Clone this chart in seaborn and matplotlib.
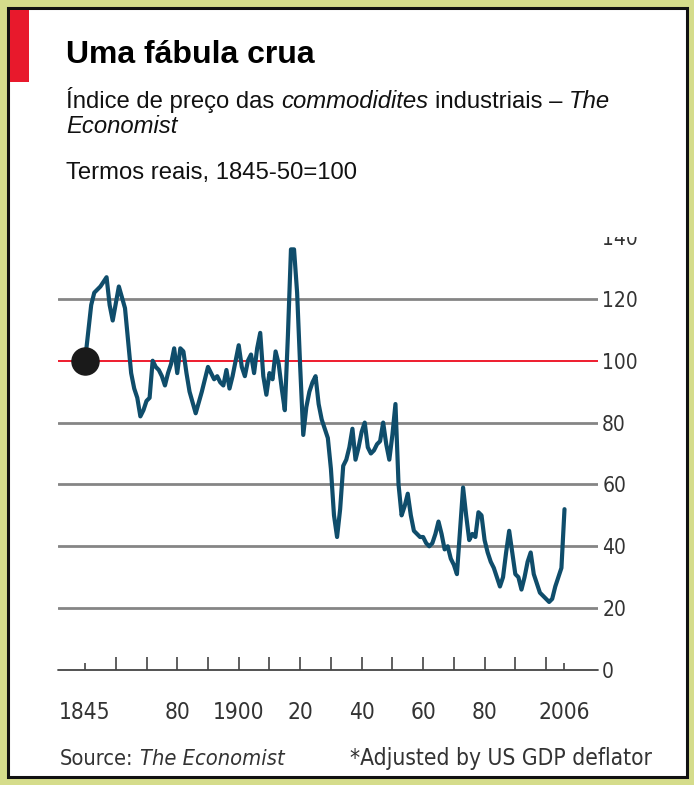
import matplotlib
matplotlib.use("Agg")
import matplotlib.pyplot as plt
import seaborn as sns
import pandas as pd
from matplotlib.patches import Rectangle
from matplotlib import font_manager

# ---------------- data ----------------
years = [1850, 1852, 1853, 1855, 1857, 1858, 1859, 1861, 1863, 1865, 1866, 1867, 1868, 1869,
         1870, 1871, 1872, 1873, 1874, 1875, 1876, 1877, 1878, 1879, 1880, 1881, 1882, 1883,
         1884, 1886, 1888, 1890, 1891, 1892, 1893, 1894, 1895, 1896, 1897, 1898, 1900, 1901,
         1902, 1903, 1904, 1905, 1906, 1907, 1908, 1909, 1910, 1911, 1912, 1913, 1914, 1915,
         1916, 1917, 1918, 1919, 1920, 1921, 1922, 1923, 1924, 1925, 1926, 1927, 1928, 1929,
         1930, 1931, 1932, 1933, 1934, 1935, 1936, 1937, 1938, 1939, 1940, 1941, 1942, 1943,
         1944, 1945, 1946, 1947, 1948, 1949, 1950, 1951, 1952, 1953, 1954, 1955, 1956, 1957,
         1958, 1959, 1960, 1961, 1962, 1963, 1964, 1965, 1966, 1967, 1968, 1969, 1970, 1971,
         1972, 1973, 1974, 1975, 1976, 1977, 1978, 1979, 1980, 1981, 1982, 1983, 1984, 1985,
         1986, 1987, 1988, 1989, 1990, 1991, 1992, 1993, 1994, 1995, 1996, 1997, 1998, 1999,
         2000, 2001, 2002, 2003, 2004, 2005, 2006]
index_values = [100, 118, 122, 124, 127, 118, 113, 124, 117, 96, 91, 88, 82, 84,
                87, 88, 100, 98, 97, 95, 92, 96, 99, 104, 96, 104, 103, 96,
                90, 83, 90, 98, 96, 94, 95, 93, 92, 97, 91, 95, 105, 98,
                95, 100, 102, 96, 104, 109, 95, 89, 96, 94, 103, 99, 91, 84,
                108, 136, 136, 122, 98, 76, 85, 90, 93, 95, 86, 81, 78, 75,
                65, 50, 43, 52, 66, 68, 72, 78, 68, 72, 77, 80, 72, 70,
                71, 73, 74, 80, 73, 68, 76, 86, 60, 50, 53, 57, 50, 45,
                44, 43, 43, 41, 40, 41, 44, 48, 44, 39, 40, 36, 34, 31,
                45, 59, 50, 42, 44, 43, 51, 50, 42, 38, 35, 33, 30, 27,
                30, 38, 45, 38, 31, 30, 26, 30, 35, 38, 31, 28, 25, 24,
                23, 22, 23, 27, 30, 33, 52]
start_year = [1850]
start_value = [100]
y_ticks = [0, 20, 40, 60, 80, 100, 120, 140]
x_tick_years = [1850, 1860, 1870, 1880, 1890, 1900, 1910, 1920, 1930, 1940, 1950,
                1960, 1970, 1980, 1990, 2000, 2006]
x_tick_labels = ["1845", "", "", "80", "", "1900", "", "20", "", "40", "",
                 "60", "", "80", "", "", "2006"]

title = "Uma fábula crua"
subtitle1 = [("Índice de preço das ", "normal"), ("commodidites", "italic"),
             (" industriais – ", "normal"), ("The", "italic")]
subtitle2 = [("Economist", "italic")]
subtitle3 = [("Termos reais, 1845-50=100", "normal")]
source_parts = [("Source: ", "normal"), ("The Economist", "italic")]
note_text = "*Adjusted by US GDP deflator"

# ---------------- style ----------------
sns.set_style("white")
names = {f.name for f in font_manager.fontManager.ttflist}
HEAD = "Liberation Sans" if "Liberation Sans" in names else "DejaVu Sans"
if "Liberation Sans Narrow" in names:
    COND, COND_STRETCH = "Liberation Sans Narrow", "normal"
else:
    COND, COND_STRETCH = "DejaVu Sans", "condensed"
plt.rcParams["font.family"] = [HEAD, "DejaVu Sans"]

W, H = 694, 785
fig = plt.figure(figsize=(W / 100, H / 100), dpi=100)
OLIVE = "#D5DC8B"
fig.patch.set_facecolor(OLIVE)


def fx(x):
    return x / W


def fy(y):
    return 1 - y / H


# white panel with black frame
fig.add_artist(Rectangle((fx(8), fy(777)), fx(679), (777 - 8) / H, transform=fig.transFigure,
                         facecolor="white", edgecolor="#111111", linewidth=2.2, zorder=0))
# red tag
fig.add_artist(Rectangle((fx(9.5), fy(82)), fx(20), 72 / H, transform=fig.transFigure,
                         facecolor="#E8192C", edgecolor="none", zorder=1))

# ---------------- axes ----------------
ax = fig.add_axes([fx(58), fy(670), fx(598) - fx(58), (670 - 237) / H])
ax.set_facecolor("none")
df = pd.DataFrame({"year": years, "index": index_values})

for v in [20, 40, 60, 80, 120]:
    ax.axhline(v, color="#858585", lw=2.0, zorder=1)
ax.axhline(100, color="#EE1C2E", lw=1.4, zorder=2)
ax.axhline(0, color="#444444", lw=1.3, zorder=2, clip_on=False)

sns.lineplot(data=df, x="year", y="index", ax=ax, color="#0F4D6B", lw=3.0, zorder=4)
ax.plot(start_year, start_value, "o", ms=19.5, color="#1A1A1A", zorder=5)

ax.set_xlim(1841.2, 2016.9)
ax.set_ylim(0, 138.1)
for s in ax.spines.values():
    s.set_visible(False)
ax.set_xlabel("")
ax.set_ylabel("")

ax.set_xticks(x_tick_years)
ax.set_xticklabels(x_tick_labels)
ax.tick_params(axis="x", direction="in", length=9.5, width=1.2, color="#444444",
               pad=22, labelsize=16.3, labelcolor="#333333", bottom=True)
light = {1880, 1890, 1900, 2000}
short = {1850, 2006}
for yr, tk in zip(x_tick_years, ax.xaxis.get_major_ticks()):
    if yr in light:
        tk.tick1line.set_color("#BBBBBB")
    if yr in short:
        tk.tick1line.set_markersize(5)
for lab in ax.get_xticklabels():
    lab.set_family(COND)
    lab.set_stretch(COND_STRETCH)

ax.yaxis.tick_right()
ax.set_yticks(y_ticks)
ax.set_yticklabels([str(v) for v in y_ticks])
ax.tick_params(axis="y", length=0, pad=3, labelsize=15, labelcolor="#333333")
for lab in ax.get_yticklabels():
    lab.set_family(COND)
    lab.set_stretch(COND_STRETCH)

# mask that cuts the top tick label like the original
fig.add_artist(Rectangle((fx(585), fy(237)), fx(80), (237 - 190) / H, transform=fig.transFigure,
                         facecolor="white", edgecolor="none", zorder=3))

# ---------------- texts ----------------
fig.canvas.draw()
rend = fig.canvas.get_renderer()


def run_text(x, y, parts, size, family, color, stretch="normal", weight="normal"):
    probe1 = fig.text(0, 0, "x x", fontsize=size, family=family, stretch=stretch)
    probe2 = fig.text(0, 0, "xx", fontsize=size, family=family, stretch=stretch)
    space = probe1.get_window_extent(rend).width - probe2.get_window_extent(rend).width
    probe1.remove()
    probe2.remove()
    for txt, style in parts:
        lead = len(txt) - len(txt.lstrip(" "))
        trail = len(txt) - len(txt.rstrip(" "))
        x += lead * space
        core = txt.strip(" ")
        t = fig.text(fx(x), fy(y), core, fontsize=size, family=family, style=style,
                     color=color, va="baseline", ha="left", stretch=stretch, weight=weight)
        x += t.get_window_extent(rend).width + trail * space
    return x


run_text(66, 63, [(title, "normal")], 23, HEAD, "#000000", weight="bold")
run_text(66, 108, subtitle1, 17.2, HEAD, "#111111")
run_text(66, 133, subtitle2, 17.2, HEAD, "#111111")
run_text(66, 179, subtitle3, 17.2, HEAD, "#111111")
run_text(60, 765, source_parts, 15.7, COND, "#333333", stretch=COND_STRETCH)
run_text(350, 765, [(note_text, "normal")], 16.3, COND, "#333333", stretch=COND_STRETCH)

fig.savefig("out.png", dpi=100, facecolor=fig.get_facecolor())
